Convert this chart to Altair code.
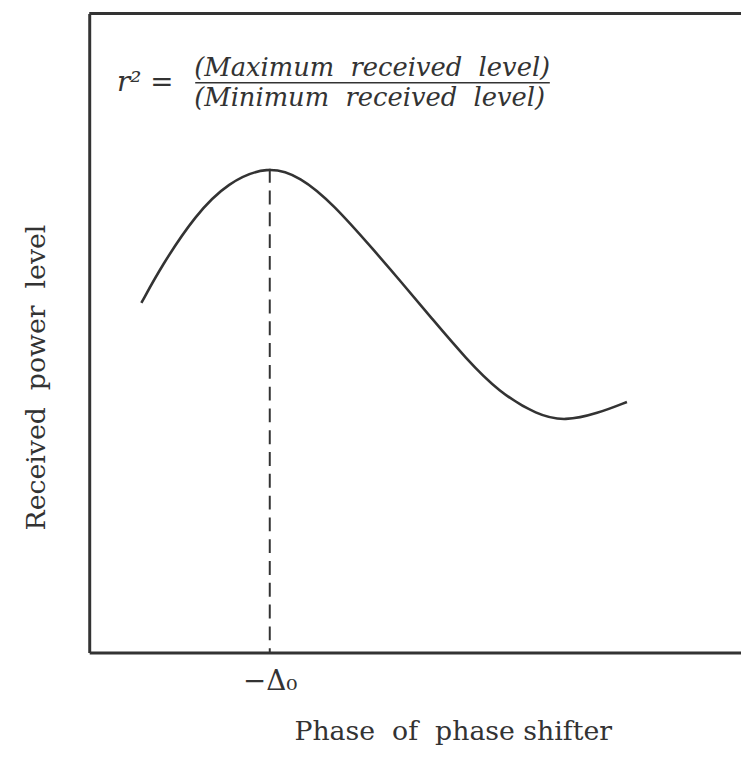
import altair as alt
import pandas as pd

# Curve (arbitrary units, 0..10 on both axes)
phase = [0.80, 1.11, 1.63, 2.13, 2.74, 3.24, 3.75, 4.38, 4.76, 5.27, 5.78, 6.28, 6.88, 7.30, 7.80, 8.25]
level = [5.47, 6.05, 6.85, 7.36, 7.62, 7.45, 7.01, 6.28, 5.83, 5.21, 4.60, 4.08, 3.71, 3.62, 3.74, 3.92]

peak_phase = [2.77]
peak_level = [7.57]
tick_values = [2.77]
tick_labels = ["−Δ₀"]

W, H = 658, 645
SERIF = "DejaVu Serif"
NB = "\u00a0"

curve_df = pd.DataFrame({"phase": phase, "level": level})
peak_df = pd.DataFrame({"phase": peak_phase, "top": peak_level, "bottom": [0.0]})

label_expr = "datum.value == %s ? '%s' : ''" % (tick_values[0], tick_labels[0])

x_scale = alt.Scale(domain=[0, 10], nice=False, zero=False)
y_scale = alt.Scale(domain=[0, 10], nice=False, zero=False)

x_axis = alt.Axis(
    values=tick_values, labelExpr=label_expr, ticks=False, grid=False,
    domainColor="#333333", domainWidth=3,
    labelFont=SERIF, labelFontSize=28, labelColor="#333333", labelPadding=15,
    title="Phase" + NB * 2 + "of" + NB * 2 + "phase shifter", titleFont=SERIF, titleFontSize=27,
    titleFontWeight="normal", titleColor="#333333",
    titleX=367, titleY=80, titleBaseline="middle", titleAlign="center",
)
y_axis = alt.Axis(
    labels=False, ticks=False, grid=False,
    domainColor="#333333", domainWidth=3,
    title="Received" + NB + " power" + NB + " level", titleFont=SERIF, titleFontSize=27,
    titleFontWeight="normal", titleColor="#333333",
    titleX=-53, titleY=367, titleBaseline="middle", titleAlign="center",
)

curve = alt.Chart(curve_df).mark_line(
    interpolate="basis", color="#333333", strokeWidth=2.6
).encode(
    x=alt.X("phase:Q", scale=x_scale, axis=x_axis),
    y=alt.Y("level:Q", scale=y_scale, axis=y_axis),
)

dashed = alt.Chart(peak_df).mark_rule(
    color="#333333", strokeWidth=2, strokeDash=[14, 8]
).encode(
    x="phase:Q",
    y="top:Q",
    y2="bottom:Q",
)

top_border = alt.Chart(peak_df).mark_rule(color="#333333", strokeWidth=3).encode(
    x=alt.value(0), x2=alt.value(W), y=alt.value(0)
)

lhs = alt.Chart(peak_df).mark_text(
    text="r²" + NB + "=", font=SERIF, fontStyle="italic", fontSize=28, color="#333333",
    align="left", baseline="middle",
).encode(x=alt.value(28), y=alt.value(70))

num = alt.Chart(peak_df).mark_text(
    text="(Maximum" + NB * 2 + "received" + NB * 2 + "level)", font=SERIF, fontStyle="italic",
    fontSize=26, color="#333333", align="left", baseline="middle",
).encode(x=alt.value(106), y=alt.value(55))

den = alt.Chart(peak_df).mark_text(
    text="(Minimum" + NB * 2 + "received" + NB * 2 + "level)", font=SERIF, fontStyle="italic",
    fontSize=26, color="#333333", align="left", baseline="middle",
).encode(x=alt.value(106), y=alt.value(85))

bar = alt.Chart(peak_df).mark_rule(color="#333333", strokeWidth=1.5).encode(
    x=alt.value(107), x2=alt.value(465), y=alt.value(70)
)

chart = alt.layer(curve, dashed, top_border, lhs, num, den, bar).properties(
    width=W, height=H,
    autosize=alt.AutoSizeParams(type="none"),
    padding={"left": 82, "top": 2, "right": 0, "bottom": 100},
).configure_view(stroke=None).configure(background="white")

chart.save("out.html", embed_options={"renderer": "svg", "actions": False})
